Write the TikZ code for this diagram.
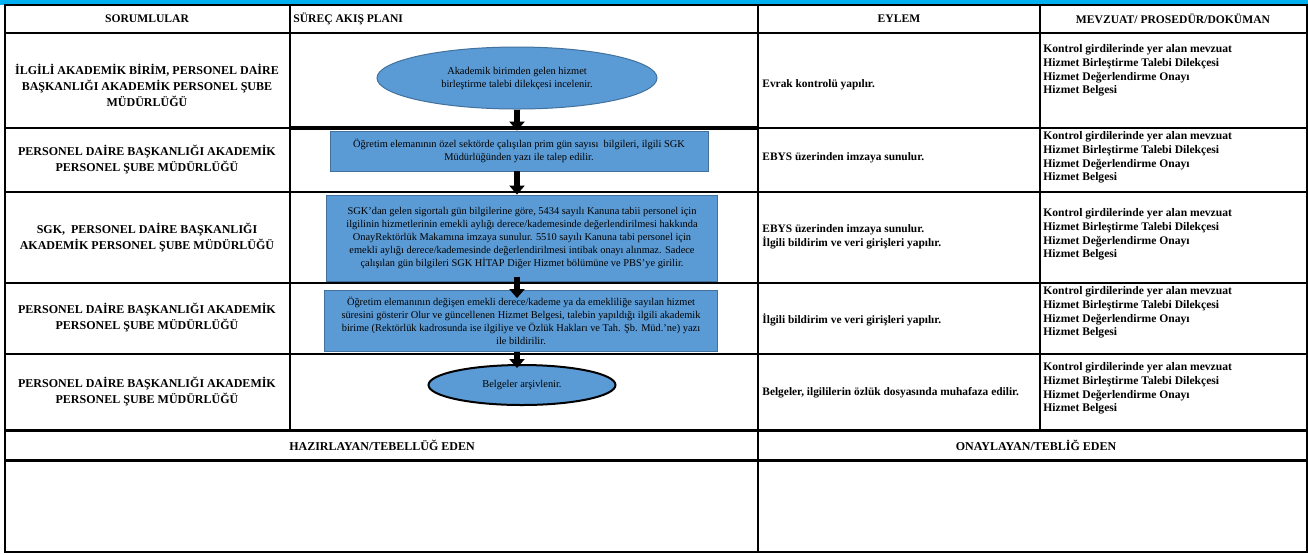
\documentclass[tikz,border=0pt]{standalone}
\usepackage{fontspec}
\setmainfont{Liberation Serif}
\usepackage{xcolor}
\usepackage{tikz}
\usetikzlibrary{calc,shapes.geometric,arrows.meta}
\definecolor{topbar}{RGB}{0,176,240}
\definecolor{flowfill}{RGB}{91,155,213}
\definecolor{flowedge}{RGB}{65,113,156}

\begin{document}
\begin{tikzpicture}[x=0.5pt, y=-0.5pt,
  resp/.style={font=\fontsize{6}{8}\selectfont\bfseries, align=center, inner sep=0pt},
  head/.style={font=\fontsize{5.8}{7}\selectfont\bfseries, align=center, inner sep=0pt},
  act/.style={font=\fontsize{5.7}{7}\selectfont\bfseries, align=left, anchor=west, inner sep=0pt},
  doc/.style={font=\fontsize{5.8}{6.9}\selectfont\bfseries, align=left, anchor=north west, inner sep=0pt},
  flowbox/.style={rectangle, draw=flowedge, fill=flowfill, line width=0.4pt, font=\fontsize{5.2}{6.5}\selectfont, align=center, inner sep=0pt},
  flowoval/.style={ellipse, draw=flowedge, fill=flowfill, line width=0.5pt, font=\fontsize{5.2}{6.5}\selectfont, align=center, inner sep=0pt},
  flowarrow/.style={line width=3.2pt, -{Triangle[width=7.5pt,length=4.5pt]}}]
  \useasboundingbox (0,0) rectangle (1308,554);
  % top band and table frame
  \fill[topbar] (0,0) rectangle (1308,5);
  \draw[line width=1pt] (5,5) rectangle (1307,552);
  \draw[line width=0.8pt] (5,33) -- (1307,33);
  \draw[line width=0.8pt] (5,128) -- (1307,128);
  \draw[line width=1.6pt] (290,128) -- (758,128);
  \draw[line width=0.8pt] (5,192) -- (1307,192);
  \draw[line width=0.8pt] (5,283) -- (1307,283);
  \draw[line width=0.8pt] (5,354) -- (1307,354);
  \draw[line width=1.5pt] (5,430) -- (1307,430);
  \draw[line width=1.5pt] (5,460) -- (1307,460);
  \draw[line width=0.8pt] (290,5) -- (290,430);
  \draw[line width=1.2pt] (758,5) -- (758,552);
  \draw[line width=1.2pt] (1040,5) -- (1040,430);
  % header
  \node[head] (hresp) at (147,19) {SORUMLULAR};
  \node[head, anchor=west] (hflow) at (293,19) {SÜREÇ AKIŞ PLANI};
  \node[head] (hact) at (899,19) {EYLEM};
  \node[head] (hdoc) at (1173,19) {MEVZUAT/ PROSEDÜR/DOKÜMAN};
  % responsible units
  \node[resp] (r1resp) at (147,85) {İLGİLİ AKADEMİK BİRİM, PERSONEL DAİRE\\BAŞKANLIĞI AKADEMİK PERSONEL ŞUBE\\MÜDÜRLÜĞÜ};
  \node[resp] (r2resp) at (147,160) {PERSONEL DAİRE BAŞKANLIĞI AKADEMİK\\PERSONEL ŞUBE MÜDÜRLÜĞÜ};
  \node[resp] (r3resp) at (147,238) {SGK,\ \ PERSONEL DAİRE BAŞKANLIĞI\\AKADEMİK PERSONEL ŞUBE MÜDÜRLÜĞÜ};
  \node[resp] (r4resp) at (147,318) {PERSONEL DAİRE BAŞKANLIĞI AKADEMİK\\PERSONEL ŞUBE MÜDÜRLÜĞÜ};
  \node[resp] (r5resp) at (147,392) {PERSONEL DAİRE BAŞKANLIĞI AKADEMİK\\PERSONEL ŞUBE MÜDÜRLÜĞÜ};
  % flow
  \coordinate (axis) at (517,0);
  \node[flowoval, minimum width=140pt, minimum height=31pt] (f1) at (517,78) {Akademik birimden gelen hizmet\\birleştirme talebi dilekçesi incelenir.};
  \node[flowbox, minimum width=189pt, minimum height=20pt] (f2) at (519,151) {Öğretim elemanının özel sektörde çalışılan prim gün sayısı\ \ bilgileri, ilgili SGK\\Müdürlüğünden yazı ile talep edilir.};
  \node[flowbox, minimum width=195.5pt, minimum height=43pt] (f3) at (522,238) {SGK’dan gelen sigortalı gün bilgilerine göre, 5434 sayılı Kanuna tabii personel için\\ilgilinin hizmetlerinin emekli aylığı derece/kademesinde değerlendirilmesi hakkında\\OnayRektörlük Makamına imzaya sunulur. 5510 sayılı Kanuna tabi personel için\\emekli aylığı derece/kademesinde değerlendirilmesi intibak onayı alınmaz. Sadece\\çalışılan gün bilgileri SGK HİTAP Diğer Hizmet bölümüne ve PBS'ye girilir.};
  \node[flowbox, minimum width=196.5pt, minimum height=30.5pt] (f4) at (521,321) {Öğretim elemanının değişen emekli derece/kademe ya da emekliliğe sayılan hizmet\\süresini gösterir Olur ve güncellenen Hizmet Belgesi, talebin yapıldığı ilgili akademik\\birime (Rektörlük kadrosunda ise ilgiliye ve Özlük Hakları ve Tah. Şb. Müd.'ne) yazı\\ile bildirilir.};
  \node[flowoval, draw=black, line width=1pt, minimum width=93.5pt, minimum height=20pt] (f5) at (522,385) {Belgeler arşivlenir.};
  \draw[flowarrow] (axis |- f1.south) -- (axis |- f2.north);
  \draw[flowarrow] (axis |- f2.south) -- (axis |- f3.north);
  \draw[flowarrow, shorten <=-2pt, shorten >=-4pt] (axis |- f3.south) -- (axis |- f4.north);
  \draw[flowarrow, shorten >=-2pt] (axis |- f4.south) -- (axis |- f5.north);
  % actions
  \node[act] (r1act) at (762,85) {Evrak kontrolü yapılır.};
  \node[act] (r2act) at (762,158) {EBYS üzerinden imzaya sunulur.};
  \node[act] (r3act) at (762,237) {EBYS üzerinden imzaya sunulur.\\İlgili bildirim ve veri girişleri yapılır.};
  \node[act] (r4act) at (762,320) {İlgili bildirim ve veri girişleri yapılır.};
  \node[act] (r5act) at (762,393) {Belgeler, ilgililerin özlük dosyasında muhafaza edilir.};
  % documents
  \node[doc] (r1doc) at (1043,44) {Kontrol girdilerinde yer alan mevzuat\\Hizmet Birleştirme Talebi Dilekçesi\\Hizmet Değerlendirme Onayı\\Hizmet Belgesi};
  \node[doc] (r2doc) at (1043,131) {Kontrol girdilerinde yer alan mevzuat\\Hizmet Birleştirme Talebi Dilekçesi\\Hizmet Değerlendirme Onayı\\Hizmet Belgesi};
  \node[doc] (r3doc) at (1043,208) {Kontrol girdilerinde yer alan mevzuat\\Hizmet Birleştirme Talebi Dilekçesi\\Hizmet Değerlendirme Onayı\\Hizmet Belgesi};
  \node[doc] (r4doc) at (1043,286) {Kontrol girdilerinde yer alan mevzuat\\Hizmet Birleştirme Talebi Dilekçesi\\Hizmet Değerlendirme Onayı\\Hizmet Belgesi};
  \node[doc] (r5doc) at (1043,362) {Kontrol girdilerinde yer alan mevzuat\\Hizmet Birleştirme Talebi Dilekçesi\\Hizmet Değerlendirme Onayı\\Hizmet Belgesi};
  % signatures
  \node[head, font=\fontsize{6}{7}\selectfont\bfseries] (prep) at (382,445) {HAZIRLAYAN/TEBELLÜĞ EDEN};
  \node[head, font=\fontsize{6}{7}\selectfont\bfseries] (appr) at (1036,445) {ONAYLAYAN/TEBLİĞ EDEN};
\end{tikzpicture}
\end{document}
